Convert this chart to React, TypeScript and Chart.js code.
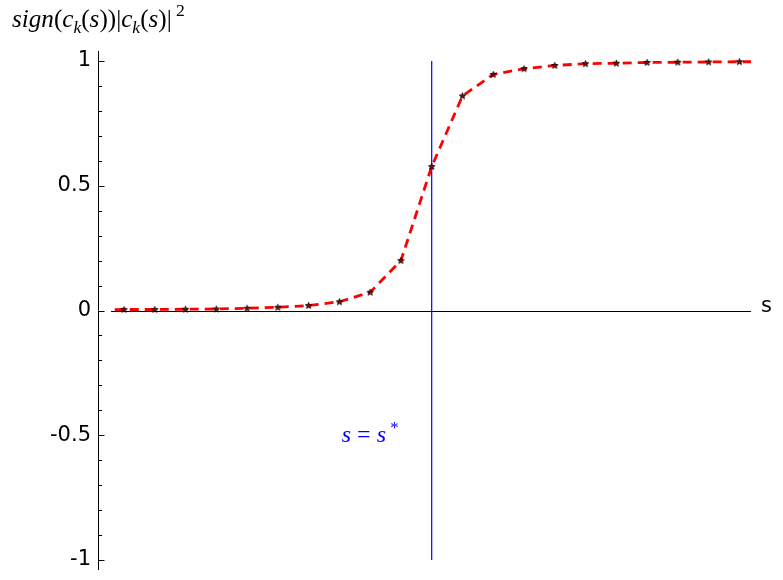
import React, { useEffect, useRef } from "react";
import { Chart, registerables } from "chart.js";

Chart.register(...registerables);

// ---- data ----
const sValues = [0, 1, 2, 3, 4, 5, 6, 7, 8, 9, 10, 11, 12, 13, 14, 15, 16, 17, 18, 19, 20];
const signedCk2 = [
  0.004, 0.004, 0.005, 0.006, 0.009, 0.013, 0.02, 0.035, 0.073, 0.2, 0.577,
  0.86, 0.946, 0.969, 0.982, 0.989, 0.991, 0.994, 0.995, 0.996, 0.997,
];
const curveStart = { s: -0.3, v: 0.003 };
const curveEnd = { s: 20.38, v: 0.997 };
const sStar = 10;
const xAxisRange = [-0.4225, 20.38];
const xScaleRange = [-0.845, 20.377];
const yRange = [-1.04, 1.04];
const yTicks = [-1, -0.5, 0, 0.5, 1];
const yMinorStep = 0.1;
const sStarLabelPos = { s: 8, v: -0.5 };

function makeStar(): HTMLCanvasElement {
  const c = document.createElement("canvas");
  c.width = 9;
  c.height = 9;
  const g = c.getContext("2d")!;
  const cx = 4.5, cy = 4.7, R = 3.3, r = 1.4;
  g.beginPath();
  for (let i = 0; i < 10; i++) {
    const a = -Math.PI / 2 + (i * Math.PI) / 5;
    const rr = i % 2 === 0 ? R : r;
    const x = cx + rr * Math.cos(a);
    const y = cy + rr * Math.sin(a);
    if (i === 0) g.moveTo(x, y);
    else g.lineTo(x, y);
  }
  g.closePath();
  g.fillStyle = "#aa0000";
  g.fill();
  g.strokeStyle = "#000";
  g.lineWidth = 0.9;
  g.stroke();
  return c;
}

type Piece = { t: string; italic?: boolean; scale?: number; dy?: number };

function drawPieces(ctx: CanvasRenderingContext2D, pieces: Piece[], x: number, y: number, targetWidth: number, family: string, color: string, align: "left" | "center" = "left") {
  const fontFor = (p: Piece, size: number) => `${p.italic ? "italic " : ""}${size * (p.scale ?? 1)}px ${family}`;
  const widthAt = (size: number) => {
    let total = 0;
    for (const p of pieces) {
      ctx.font = fontFor(p, size);
      total += ctx.measureText(p.t).width;
    }
    return total;
  };
  const size = (20 * targetWidth) / widthAt(20);
  const total = widthAt(size);
  let cx = align === "center" ? x - total / 2 : x;
  ctx.fillStyle = color;
  ctx.textBaseline = "alphabetic";
  ctx.textAlign = "left";
  for (const p of pieces) {
    ctx.font = fontFor(p, size);
    ctx.fillText(p.t, cx, y + (p.dy ?? 0) * size);
    cx += ctx.measureText(p.t).width;
  }
}

const decorPlugin = {
  id: "decor",
  beforeDatasetsDraw(chart: any) {
    const { ctx, scales } = chart;
    const xs = scales.x, ys = scales.y;
    ctx.save();
    ctx.strokeStyle = "#000";
    ctx.lineWidth = 1;
    const y0 = Math.round(ys.getPixelForValue(0)) + 0.5;
    ctx.beginPath();
    ctx.moveTo(xs.getPixelForValue(xAxisRange[0]), y0);
    ctx.lineTo(xs.getPixelForValue(xAxisRange[1]), y0);
    ctx.stroke();
    const ax = Math.round(chart.chartArea.left) + 0.5;
    ctx.beginPath();
    ctx.moveTo(ax, chart.chartArea.top);
    ctx.lineTo(ax, chart.chartArea.bottom);
    ctx.stroke();
    for (let k = -10; k <= 10; k++) {
      const v = k * yMinorStep;
      const py = Math.round(ys.getPixelForValue(v)) + 0.5;
      const major = k % 5 === 0;
      ctx.beginPath();
      ctx.moveTo(ax, py);
      ctx.lineTo(ax + (major ? 6 : 3.5), py);
      ctx.stroke();
    }
    ctx.restore();
  },
  afterDraw(chart: any) {
    const { ctx, scales } = chart;
    const xs = scales.x, ys = scales.y;
    ctx.save();
    ctx.font = "21px 'DejaVu Sans'";
    ctx.fillStyle = "#000";
    ctx.textAlign = "left";
    ctx.textBaseline = "alphabetic";
    ctx.fillText("s", 761, ys.getPixelForValue(0) + 1.5);
    const fam = "'Liberation Serif', 'DejaVu Serif', serif";
    drawPieces(
      ctx,
      [
        { t: "sign", italic: true },
        { t: "(" },
        { t: "c", italic: true },
        { t: "k", italic: true, scale: 0.7, dy: 0.25 },
        { t: "(" },
        { t: "s", italic: true },
        { t: "))|" },
        { t: "c", italic: true },
        { t: "k", italic: true, scale: 0.7, dy: 0.25 },
        { t: "(" },
        { t: "s", italic: true },
        { t: ")|" },
        { t: " 2", scale: 0.7, dy: -0.45 },
      ],
      12,
      27,
      173,
      fam,
      "#000"
    );
    drawPieces(
      ctx,
      [
        { t: "s", italic: true },
        { t: " = " },
        { t: "s", italic: true },
        { t: " *", scale: 0.7, dy: -0.4 },
      ],
      xs.getPixelForValue(sStarLabelPos.s),
      ys.getPixelForValue(sStarLabelPos.v) + 7,
      57,
      fam,
      "#0000ff",
      "center"
    );
    ctx.restore();
  },
};

export default function App() {
  const ref = useRef<HTMLCanvasElement>(null);
  useEffect(() => {
    const star = makeStar();
    const points = sValues.map((s, i) => ({ x: s, y: signedCk2[i] }));
    const curve = [{ x: curveStart.s, y: curveStart.v }, ...points, { x: curveEnd.s, y: curveEnd.v }];
    const chart = new Chart(ref.current!, {
      type: "scatter",
      data: {
        datasets: [
          {
            data: points,
            showLine: false,
            pointStyle: star as any,
            pointRadius: 4,
            order: 0,
          },
          {
            data: curve,
            showLine: true,
            borderColor: "#ff0000",
            borderWidth: 2.8,
            borderDash: [9, 6],
            pointRadius: 0,
            order: 1,
          },
          {
            data: [
              { x: sStar, y: yTicks[0] },
              { x: sStar, y: yTicks[yTicks.length - 1] },
            ],
            showLine: true,
            borderColor: "#0000ff",
            borderWidth: 1.2,
            pointRadius: 0,
            order: 2,
          },
        ],
      },
      options: {
        animation: false,
        responsive: false,
        layout: { padding: { left: 0, top: 51, right: 32, bottom: 10 } },
        plugins: { legend: { display: false }, tooltip: { enabled: false } },
        scales: {
          x: { type: "linear", display: false, min: xScaleRange[0], max: xScaleRange[1] },
          y: {
            type: "linear",
            min: yRange[0],
            max: yRange[1],
            afterFit: (scale: any) => {
              scale.width = 98;
              scale.paddingTop = 0;
              scale.paddingBottom = 0;
            },
            afterBuildTicks: (scale: any) => {
              scale.ticks = yTicks.map((v) => ({ value: v }));
            },
            grid: { display: false, drawTicks: false },
            border: { display: false },
            ticks: {
              padding: 7,
              color: "#000",
              font: { family: "'DejaVu Sans'", size: 21 },
              callback: (v: any) => String(v),
            },
          },
        },
      },
      plugins: [decorPlugin],
    });
    return () => chart.destroy();
  }, []);
  return (
    <div style={{ position: "fixed", left: 0, top: 0, width: 783, height: 580, background: "#fff" }}>
      <canvas ref={ref} width={783} height={580} />
    </div>
  );
}
